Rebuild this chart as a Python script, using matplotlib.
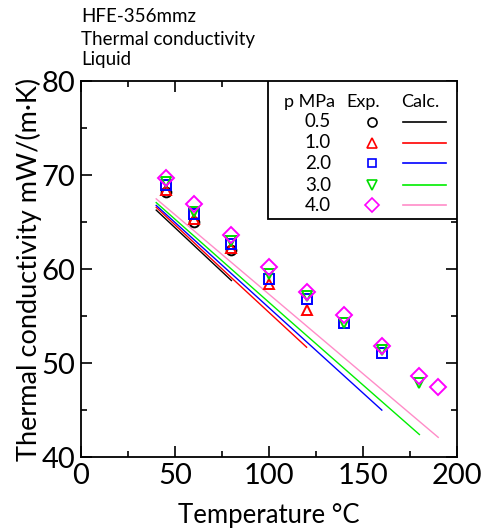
import matplotlib
matplotlib.use('Agg')
import matplotlib.pyplot as plt
from matplotlib.patches import Rectangle
from matplotlib.ticker import MultipleLocator

plt.rcParams['font.family'] = ['Lato', 'DejaVu Sans']

# Experimental points, T in degC, lambda in mW/(m K)
pressures = ['0.5', '1.0', '2.0', '3.0', '4.0']

t_exp_05 = [45, 60, 80]
k_exp_05 = [68.2, 65.0, 62.0]
t_exp_10 = [45, 60, 80, 100, 120]
k_exp_10 = [68.4, 65.4, 62.3, 58.4, 55.7]
t_exp_20 = [45, 60, 80, 100, 120, 140, 160]
k_exp_20 = [69.0, 65.9, 62.7, 59.0, 56.8, 54.3, 51.1]
t_exp_30 = [45, 60, 80, 100, 120, 140, 160, 180]
k_exp_30 = [69.3, 66.1, 63.0, 59.5, 57.2, 54.3, 51.4, 47.9]
t_exp_40 = [45, 60, 80, 100, 120, 140, 160, 180, 190]
k_exp_40 = [69.7, 66.9, 63.6, 60.2, 57.6, 55.1, 51.8, 48.6, 47.5]

# Calculated curves
t_calc_05 = [40, 80]
k_calc_05 = [66.3, 58.8]
t_calc_10 = [40, 80, 120]
k_calc_10 = [66.6, 59.1, 51.7]
t_calc_20 = [40, 100, 160]
k_calc_20 = [66.8, 55.9, 45.0]
t_calc_30 = [40, 110, 180]
k_calc_30 = [67.1, 54.7, 42.4]
t_calc_40 = [40, 115, 190]
k_calc_40 = [67.5, 54.8, 42.1]

exp_t = [t_exp_05, t_exp_10, t_exp_20, t_exp_30, t_exp_40]
exp_k = [k_exp_05, k_exp_10, k_exp_20, k_exp_30, k_exp_40]
calc_t = [t_calc_05, t_calc_10, t_calc_20, t_calc_30, t_calc_40]
calc_k = [k_calc_05, k_calc_10, k_calc_20, k_calc_30, k_calc_40]

pt_colors = ['black', 'red', 'blue', '#00dd00', 'magenta']
line_colors = ['black', 'red', 'blue', '#00ee00', '#ff8cc8']
markers = ['o', '^', 's', 'v', 'D']
msizes = [7, 7.5, 6.5, 7.5, 8]

fig = plt.figure(figsize=(4.88, 5.29), dpi=100)
ax = fig.add_axes([0.166, 0.136, 0.7705, 0.71])

for i in range(5):
    ax.plot(calc_t[i], calc_k[i], color=line_colors[i], lw=1.0, zorder=2)
for i in range(5):
    ax.plot(exp_t[i], exp_k[i], ls='none', marker=markers[i], ms=msizes[i],
            mfc='none', mec=pt_colors[i], mew=1.4, zorder=3)

ax.set_xlim(0, 200)
ax.set_ylim(40, 80)
ax.xaxis.set_major_locator(MultipleLocator(50))
ax.xaxis.set_minor_locator(MultipleLocator(25))
ax.yaxis.set_major_locator(MultipleLocator(10))
ax.yaxis.set_minor_locator(MultipleLocator(5))
ax.tick_params(which='both', direction='in', top=True, right=True, width=1.2)
ax.tick_params(which='major', length=8, labelsize=21, pad=4)
ax.tick_params(which='minor', length=4)
for s in ax.spines.values():
    s.set_linewidth(1.3)

ax.set_xlabel('Temperature °C', fontsize=18.5, labelpad=10)
ax.set_ylabel('Thermal conductivity mW/(m·K)', fontsize=19.5, labelpad=0)

# header text
fig.text(0.166, 1 - 17 / 529, 'HFE-356mmz', fontsize=13.5, va='center')
fig.text(0.166, 1 - 39 / 529, 'Thermal conductivity', fontsize=13.5, va='center')
fig.text(0.166, 1 - 60 / 529, 'Liquid', fontsize=13.5, va='center')

# table-style legend
ax.add_patch(Rectangle((0.497, 0.634), 0.503, 0.366, transform=ax.transAxes,
                       fill=True, fc='white', ec='black', lw=1.3, zorder=5))
hy = 0.946
ax.text(0.609, hy, 'p MPa', transform=ax.transAxes, fontsize=13,
        ha='center', va='center', zorder=6)
ax.text(0.750, hy, 'Exp.', transform=ax.transAxes, fontsize=13,
        ha='center', va='center', zorder=6)
ax.text(0.902, hy, 'Calc.', transform=ax.transAxes, fontsize=13,
        ha='center', va='center', zorder=6)
row_y = [0.893, 0.837, 0.782, 0.724, 0.671]
for i, p in enumerate(pressures):
    ax.text(0.665, row_y[i], p, transform=ax.transAxes, fontsize=13.5,
            ha='right', va='center', zorder=6)
    ax.plot([0.775], [row_y[i]], transform=ax.transAxes, ls='none',
            marker=markers[i], ms=msizes[i] - 0.5, mfc='none',
            mec=pt_colors[i], mew=1.2, zorder=6)
    ax.plot([0.857, 0.970], [row_y[i], row_y[i]], transform=ax.transAxes,
            color=line_colors[i], lw=1.2, zorder=6)

fig.savefig('out.png', dpi=100)
